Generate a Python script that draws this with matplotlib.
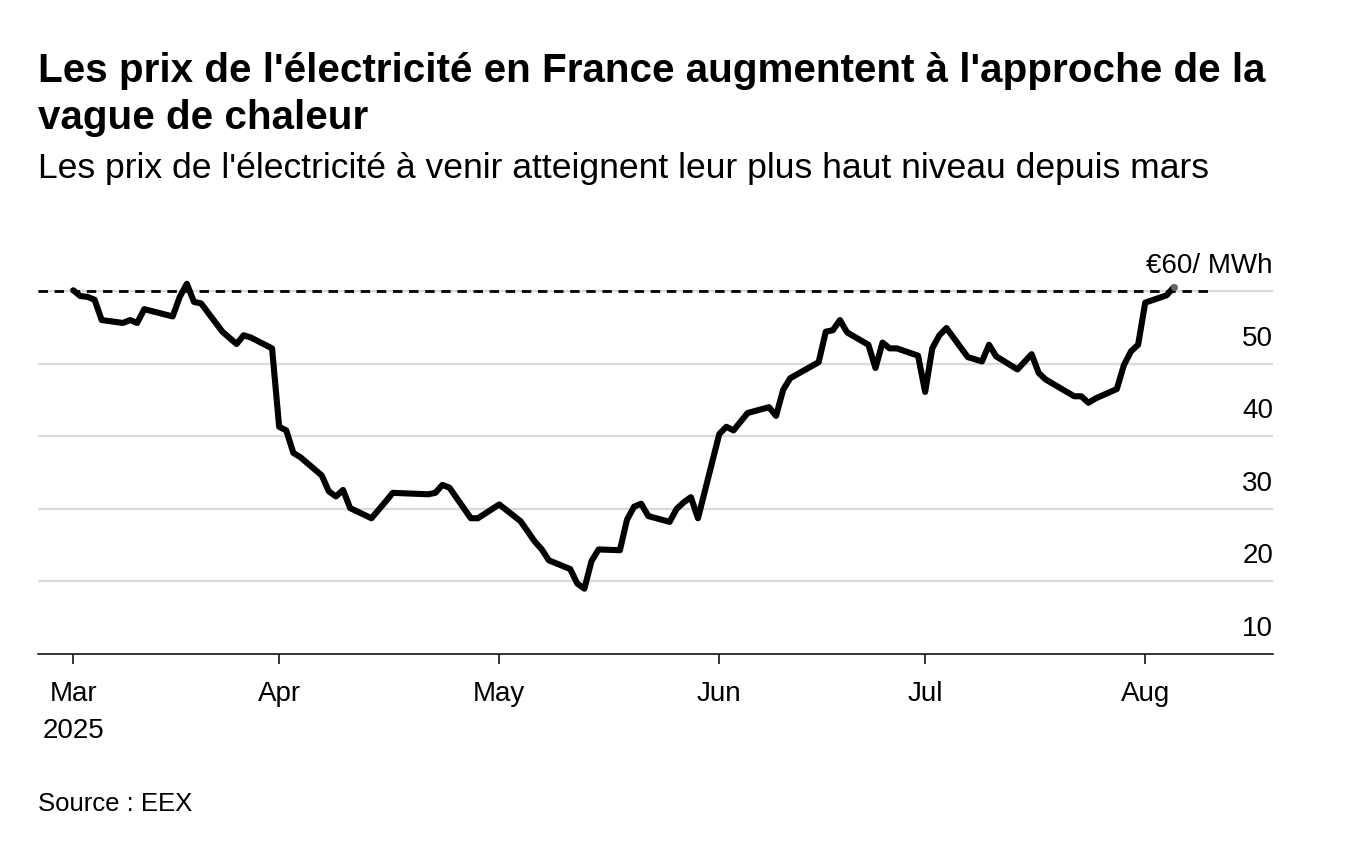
import matplotlib
matplotlib.use("Agg")
import matplotlib.pyplot as plt
import pandas as pd

# ---------------- data ----------------
dates = [
    "2025-03-03", "2025-03-04", "2025-03-05", "2025-03-06", "2025-03-07",
    "2025-03-10", "2025-03-11", "2025-03-12", "2025-03-13", "2025-03-17",
    "2025-03-18", "2025-03-19", "2025-03-20", "2025-03-21", "2025-03-24",
    "2025-03-26", "2025-03-27", "2025-03-28", "2025-03-31", "2025-04-01",
    "2025-04-02", "2025-04-03", "2025-04-04", "2025-04-07", "2025-04-08",
    "2025-04-09", "2025-04-10", "2025-04-11", "2025-04-14", "2025-04-16",
    "2025-04-17", "2025-04-22", "2025-04-23", "2025-04-24", "2025-04-25",
    "2025-04-28", "2025-04-29", "2025-05-02", "2025-05-05", "2025-05-07",
    "2025-05-08", "2025-05-09", "2025-05-12", "2025-05-13", "2025-05-14",
    "2025-05-15", "2025-05-16", "2025-05-19", "2025-05-20", "2025-05-21",
    "2025-05-22", "2025-05-23", "2025-05-26", "2025-05-27", "2025-05-28",
    "2025-05-29", "2025-05-30", "2025-06-02", "2025-06-03", "2025-06-04",
    "2025-06-06", "2025-06-09", "2025-06-10", "2025-06-11", "2025-06-12",
    "2025-06-16", "2025-06-17", "2025-06-18", "2025-06-19", "2025-06-20",
    "2025-06-23", "2025-06-24", "2025-06-25", "2025-06-26", "2025-06-27",
    "2025-06-30", "2025-07-01", "2025-07-02", "2025-07-03", "2025-07-04",
    "2025-07-07", "2025-07-09", "2025-07-10", "2025-07-11", "2025-07-14",
    "2025-07-16", "2025-07-17", "2025-07-18", "2025-07-22", "2025-07-23",
    "2025-07-24", "2025-07-25", "2025-07-28", "2025-07-29", "2025-07-30",
    "2025-07-31", "2025-08-01", "2025-08-04", "2025-08-05",
]
prices = [
    60.1, 59.3, 59.2, 58.8, 56.0,
    55.6, 56.0, 55.6, 57.5, 56.5,
    59.2, 61.0, 58.5, 58.3, 54.4,
    52.7, 53.9, 53.6, 52.1, 41.3,
    40.8, 37.7, 37.1, 34.6, 32.4,
    31.7, 32.6, 30.1, 28.7, 31.0,
    32.2, 32.0, 32.2, 33.3, 32.9,
    28.7, 28.7, 30.6, 28.3, 25.5,
    24.4, 22.9, 21.7, 19.7, 19.0,
    22.8, 24.4, 24.3, 28.5, 30.3,
    30.7, 29.0, 28.2, 30.0, 30.9,
    31.6, 28.7, 40.3, 41.3, 40.8,
    43.2, 44.0, 42.8, 46.4, 48.0,
    50.2, 54.4, 54.6, 56.0, 54.3,
    52.6, 49.4, 52.9, 52.1, 52.1,
    51.1, 46.1, 52.1, 53.9, 54.9,
    50.9, 50.3, 52.6, 51.0, 49.2,
    51.3, 48.7, 47.8, 45.5, 45.5,
    44.6, 45.2, 46.5, 49.8, 51.7,
    52.6, 58.4, 59.4, 60.5,
]
tick_dates = ["2025-03-03", "2025-04-01", "2025-05-02", "2025-06-02", "2025-07-01", "2025-08-01"]
tick_labels = ["Mar\n2025", "Apr", "May", "Jun", "Jul", "Aug"]
y_ticks = [10, 20, 30, 40, 50]
y_grid = [20, 30, 40, 50, 60]
ref_level = 60
ref_label = "€60/ MWh"

title_l1 = "Les prix de l'électricité en France augmentent à l'approche de la"
title_l2 = "vague de chaleur"
subtitle = "Les prix de l'électricité à venir atteignent leur plus haut niveau depuis mars"
source = "Source : EEX"

# ---------------- figure ----------------
plt.rcParams["font.family"] = ["Liberation Sans", "DejaVu Sans"]
W, H = 1362, 848
fig = plt.figure(figsize=(W / 100, H / 100), dpi=100)
fig.patch.set_facecolor("white")


def fx(px):
    return px / W


def fy(py):
    return 1 - py / H


ax = fig.add_axes([fx(38), fy(654), fx(1273) - fx(38), fy(276.5) - fy(654)])
ax.set_facecolor("white")

x = pd.to_datetime(dates)
start = pd.Timestamp("2025-03-03")
ax.set_xlim(start - pd.Timedelta(days=4.97), start + pd.Timedelta(days=169))
ax.set_ylim(10, 62)

for v in y_grid:
    ax.axhline(v, color="#dadada", lw=1.6, zorder=1)

ax.hlines(ref_level, start - pd.Timedelta(days=4.97), pd.Timestamp("2025-08-10"),
          colors="black", lw=2.0, linestyles=(0, (3.4, 2.4)), zorder=3)

ax.plot(x, prices, color="black", lw=4.4, solid_joinstyle="round",
        solid_capstyle="round", zorder=4, clip_on=False)
ax.plot(x[-1:], prices[-1:], marker="o", ms=4, color="#666666", zorder=5, clip_on=False)

for s in ["top", "left", "right"]:
    ax.spines[s].set_visible(False)
ax.spines["bottom"].set_color("black")
ax.spines["bottom"].set_linewidth(1.1)

ax.set_yticks([])
ax.set_xticks(pd.to_datetime(tick_dates))
ax.set_xticklabels(tick_labels, fontsize=20, linespacing=1.55)
ax.tick_params(axis="x", length=7, width=1.1, color="black", pad=12.5, labelcolor="black")

for v in y_ticks:
    ax.annotate(str(v), xy=(1, v), xycoords=("axes fraction", "data"),
                xytext=(0, 13), textcoords="offset points", ha="right",
                va="baseline", fontsize=20, color="black")
ax.annotate(ref_label, xy=(1, ref_level), xycoords=("axes fraction", "data"),
            xytext=(0, 13), textcoords="offset points", ha="right",
            va="baseline", fontsize=20, color="black")

# ---------------- texts ----------------
renderer = fig.canvas.get_renderer()


def fit(t, target):
    w = t.get_window_extent(renderer).width
    t.set_fontsize(t.get_fontsize() * target / w)


t1 = fig.text(fx(38), fy(82), title_l1, fontsize=24, fontweight="bold", va="baseline", ha="left")
fit(t1, 1230)
t2 = fig.text(fx(38), fy(129), title_l2, fontsize=t1.get_fontsize(), fontweight="bold",
              va="baseline", ha="left")
st = fig.text(fx(38), fy(178), subtitle, fontsize=20, va="baseline", ha="left")
fit(st, 1167)
src = fig.text(fx(38), fy(811), source, fontsize=16, va="baseline", ha="left")
fit(src, 155)

fig.savefig("out.png", dpi=100, facecolor="white")
